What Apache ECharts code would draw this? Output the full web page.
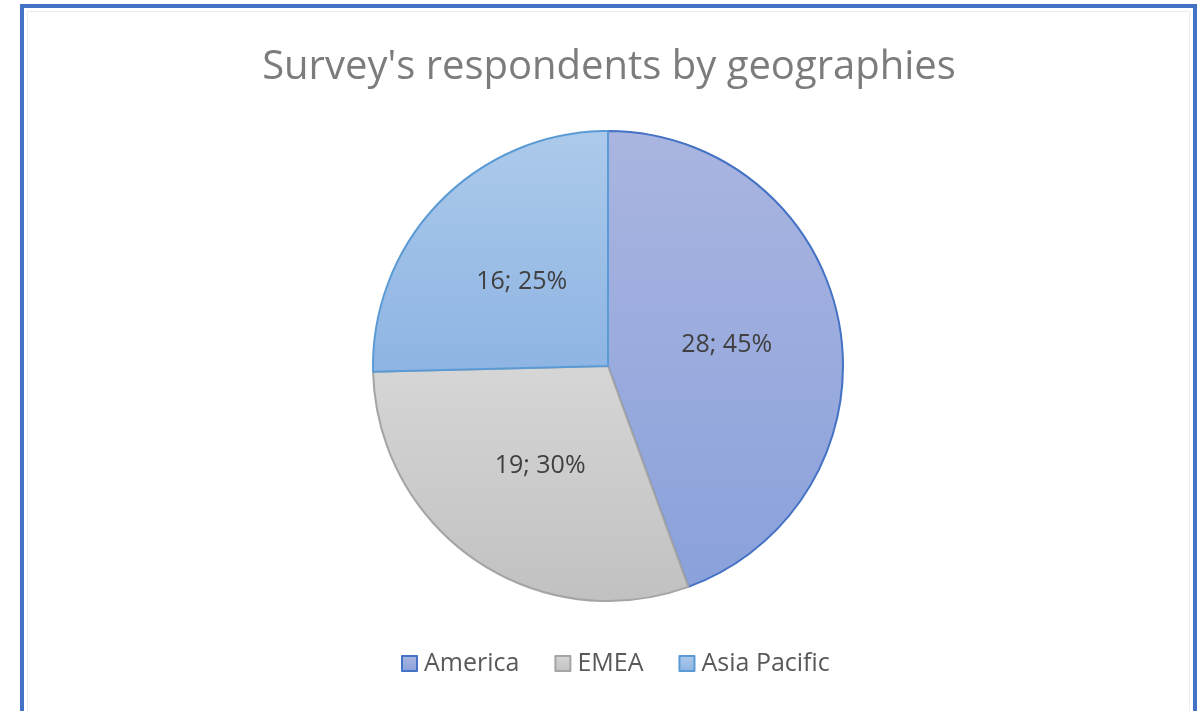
<!DOCTYPE html>
<html><head><meta charset="utf-8">
<script src="https://cdn.jsdelivr.net/npm/echarts@6/dist/echarts.min.js"></script>
<style>html,body{margin:0;padding:0;background:#fff}#c{width:1203px;height:711px}</style>
</head><body><div id="c"></div>
<script>
const titleText = "Survey's respondents by geographies";
const categories = ["America", "EMEA", "Asia Pacific"];
const values = [28, 19, 16];
const percents = ["45%", "30%", "25%"];
const fillTop = ["#aab5e0", "#d6d6d6", "#adcaeb"];
const fillBottom = ["#8aa1db", "#c1c1c1", "#8db4e3"];
const strokes = ["#4472c4", "#a5a5a5", "#5b9bd5"];

const chart = echarts.init(document.getElementById('c'), null, {renderer: 'canvas'});
const font = "'Open Sans', 'Noto Sans', sans-serif";
chart.setOption({
  backgroundColor: '#fff',
  animation: false,
  graphic: [
    {type: 'rect', shape: {x: 22, y: 6, width: 1173, height: 730}, style: {fill: 'none', stroke: '#4472c4', lineWidth: 4}},
    {type: 'rect', shape: {x: 27.5, y: 11.5, width: 1162, height: 720}, style: {fill: 'none', stroke: '#ececec', lineWidth: 1}}
  ],
  title: {
    text: titleText, left: 604, textAlign: 'center', top: 43,
    textStyle: {fontFamily: font, fontSize: 40, fontWeight: 'normal', color: '#7c7c7c'}
  },
  legend: {
    bottom: 30, left: 396, icon: 'rect', itemWidth: 15, itemHeight: 15, itemGap: 35,
    textStyle: {fontFamily: font, fontSize: 25, color: '#595959', padding: [0,0,0,2]},
    data: categories
  },
  series: [{
    type: 'pie', center: [608, 366], radius: [0, 235], startAngle: 90, clockwise: true,
    label: {
      position: 'inside', fontFamily: font, fontSize: 25, color: '#404040',
      formatter: p => p.value + '; ' + percents[p.dataIndex]
    },
    labelLine: {show: false},
    emphasis: {disabled: true},
    data: categories.map((c, i) => ({
      name: c, value: values[i],
      itemStyle: {
        color: new echarts.graphic.LinearGradient(0, 0, 0, 1, [{offset: 0, color: fillTop[i]}, {offset: 1, color: fillBottom[i]}]),
        borderColor: strokes[i], borderWidth: 2
      }
    }))
  }]
});
</script></body></html>
